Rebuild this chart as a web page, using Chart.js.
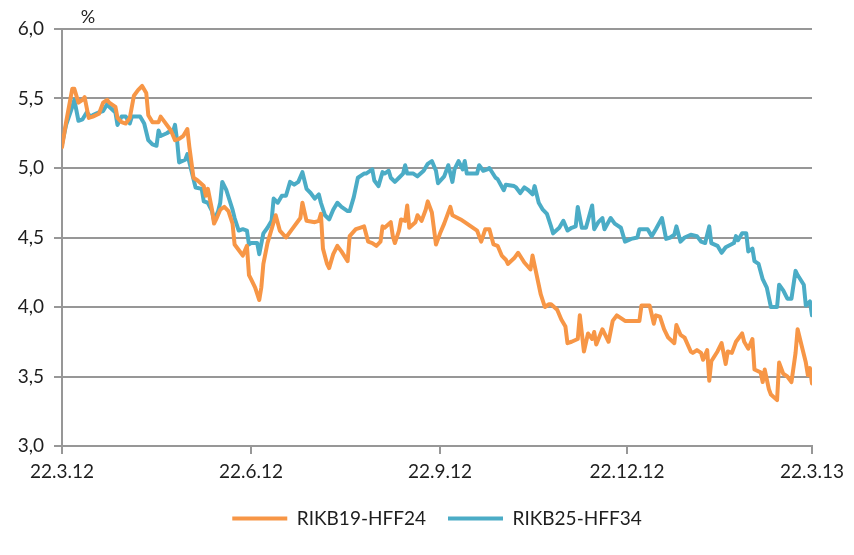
<!DOCTYPE html>
<html>
<head>
<meta charset="utf-8">
<script src="https://cdn.jsdelivr.net/npm/chart.js@4.4.1/dist/chart.umd.min.js"></script>
<style>
  html, body { margin: 0; padding: 0; background: #fff; }
  #wrap { width: 854px; height: 555px; }
</style>
</head>
<body>
<div id="wrap"><canvas id="yieldChart" width="854" height="555"></canvas></div>
<script>
// x = days after 22.3.12
const tickDays = [0, 92, 184, 275, 365];
const tickLabels = ['22.3.12', '22.6.12', '22.9.12', '22.12.12', '22.3.13'];

const rikb19Days = [0, 2, 5, 6, 8, 10, 11, 13, 15, 18, 20, 22, 23, 26, 27, 29, 31, 33, 35, 37, 39, 41, 42, 44, 47, 48, 50, 53, 55, 57, 59, 61, 62, 64, 66, 69, 70, 71, 73, 74, 75, 77, 79, 81, 83, 84, 87, 88, 90, 91, 92, 94, 96, 97, 98, 100, 103, 104, 106, 109, 112, 116, 117, 119, 123, 125, 126, 127, 129, 130, 132, 134, 136, 139, 140, 143, 145, 147, 149, 151, 153, 155, 156, 157, 160, 161, 162, 164, 165, 167, 168, 169, 172, 173, 175, 177, 178, 180, 182, 184, 186, 189, 190, 194, 196, 199, 202, 203, 204, 206, 208, 210, 212, 214, 216, 217, 220, 222, 225, 228, 229, 233, 235, 237, 238, 241, 243, 245, 246, 248, 251, 252, 254, 256, 258, 259, 260, 263, 264, 266, 268, 270, 272, 274, 281, 282, 286, 288, 289, 291, 293, 295, 298, 299, 301, 303, 306, 307, 309, 311, 312, 314, 315, 316, 319, 321, 323, 324, 326, 328, 329, 331, 332, 334, 336, 337, 340, 341, 342, 344, 345, 348, 349, 351, 353, 355, 357, 358, 360, 362, 363, 364, 365];
const rikb19Values = [5.15, 5.33, 5.57, 5.57, 5.47, 5.49, 5.51, 5.36, 5.37, 5.39, 5.47, 5.49, 5.47, 5.44, 5.36, 5.33, 5.32, 5.36, 5.52, 5.56, 5.59, 5.54, 5.38, 5.33, 5.33, 5.37, 5.33, 5.27, 5.20, 5.21, 5.23, 5.28, 5.15, 4.93, 4.91, 4.87, 4.80, 4.85, 4.70, 4.60, 4.63, 4.70, 4.72, 4.69, 4.60, 4.45, 4.39, 4.37, 4.44, 4.23, 4.20, 4.14, 4.05, 4.14, 4.31, 4.46, 4.61, 4.66, 4.55, 4.50, 4.56, 4.64, 4.75, 4.62, 4.61, 4.62, 4.67, 4.42, 4.31, 4.28, 4.38, 4.44, 4.40, 4.33, 4.51, 4.56, 4.57, 4.58, 4.47, 4.46, 4.44, 4.47, 4.58, 4.57, 4.61, 4.51, 4.46, 4.55, 4.63, 4.62, 4.73, 4.57, 4.61, 4.66, 4.62, 4.70, 4.76, 4.68, 4.45, 4.53, 4.60, 4.72, 4.66, 4.63, 4.61, 4.58, 4.55, 4.51, 4.47, 4.56, 4.56, 4.45, 4.44, 4.37, 4.34, 4.31, 4.35, 4.39, 4.32, 4.27, 4.37, 4.09, 4.00, 4.02, 4.02, 3.98, 3.91, 3.86, 3.74, 3.75, 3.77, 3.94, 3.68, 3.81, 3.77, 3.82, 3.73, 3.84, 3.81, 3.75, 3.90, 3.94, 3.92, 3.90, 3.90, 4.01, 4.01, 3.88, 3.94, 3.93, 3.84, 3.78, 3.74, 3.87, 3.80, 3.78, 3.68, 3.67, 3.69, 3.67, 3.62, 3.69, 3.47, 3.61, 3.68, 3.74, 3.59, 3.68, 3.67, 3.75, 3.77, 3.81, 3.75, 3.70, 3.77, 3.55, 3.53, 3.46, 3.55, 3.41, 3.37, 3.33, 3.60, 3.52, 3.50, 3.46, 3.67, 3.84, 3.72, 3.60, 3.51, 3.56, 3.45];

const rikb25Days = [0, 2, 5, 6, 8, 10, 12, 14, 15, 18, 20, 22, 23, 26, 27, 29, 31, 33, 34, 38, 40, 42, 44, 46, 47, 48, 51, 53, 54, 55, 56, 57, 60, 61, 63, 65, 68, 69, 71, 73, 74, 76, 77, 78, 80, 83, 84, 86, 88, 90, 91, 92, 95, 96, 98, 100, 102, 103, 105, 107, 109, 111, 113, 115, 117, 119, 121, 123, 125, 126, 128, 130, 132, 134, 136, 139, 140, 142, 144, 147, 148, 151, 152, 154, 156, 157, 159, 160, 162, 164, 166, 167, 168, 171, 173, 176, 178, 180, 182, 183, 186, 188, 190, 191, 193, 195, 196, 197, 199, 202, 203, 205, 207, 208, 211, 212, 215, 216, 220, 221, 223, 225, 227, 229, 230, 232, 234, 236, 238, 239, 242, 244, 246, 248, 250, 251, 253, 255, 258, 259, 261, 263, 264, 267, 269, 272, 274, 277, 280, 281, 285, 287, 289, 292, 294, 296, 298, 299, 301, 303, 306, 309, 311, 313, 315, 316, 319, 321, 323, 327, 328, 329, 331, 333, 334, 336, 337, 339, 341, 343, 345, 348, 349, 351, 353, 355, 357, 358, 361, 362, 364, 365];
const rikb25Values = [5.17, 5.31, 5.44, 5.49, 5.34, 5.35, 5.40, 5.37, 5.38, 5.40, 5.41, 5.46, 5.44, 5.40, 5.31, 5.37, 5.37, 5.32, 5.37, 5.37, 5.32, 5.20, 5.17, 5.16, 5.27, 5.23, 5.25, 5.27, 5.26, 5.31, 5.20, 5.04, 5.06, 5.10, 4.98, 4.86, 4.85, 4.76, 4.75, 4.69, 4.62, 4.69, 4.75, 4.90, 4.84, 4.70, 4.64, 4.55, 4.56, 4.55, 4.45, 4.46, 4.46, 4.38, 4.53, 4.57, 4.62, 4.78, 4.75, 4.80, 4.80, 4.90, 4.88, 4.90, 4.97, 4.85, 4.82, 4.78, 4.81, 4.75, 4.66, 4.63, 4.70, 4.75, 4.72, 4.69, 4.69, 4.79, 4.93, 4.96, 4.96, 4.99, 4.91, 4.87, 4.97, 4.96, 4.98, 4.93, 4.90, 4.93, 4.96, 5.02, 4.96, 4.96, 4.94, 4.98, 5.03, 5.05, 4.98, 4.89, 4.94, 5.02, 4.90, 4.99, 5.05, 4.99, 5.05, 4.96, 4.96, 4.96, 5.02, 4.98, 4.99, 5.00, 4.93, 4.92, 4.84, 4.88, 4.87, 4.86, 4.82, 4.86, 4.84, 4.81, 4.87, 4.75, 4.70, 4.67, 4.58, 4.53, 4.57, 4.62, 4.55, 4.57, 4.58, 4.72, 4.57, 4.57, 4.73, 4.56, 4.61, 4.64, 4.56, 4.64, 4.60, 4.57, 4.47, 4.49, 4.50, 4.56, 4.56, 4.51, 4.56, 4.64, 4.49, 4.50, 4.52, 4.58, 4.47, 4.50, 4.52, 4.51, 4.47, 4.46, 4.58, 4.46, 4.44, 4.39, 4.43, 4.46, 4.51, 4.48, 4.53, 4.53, 4.40, 4.42, 4.33, 4.31, 4.20, 4.14, 4.00, 4.00, 4.16, 4.12, 4.06, 4.06, 4.26, 4.23, 4.16, 4.01, 4.04, 3.94];

const toPoints = (days, vals) => days.map((d, i) => ({ x: d, y: vals[i] }));

const textColor = '#1e1e1e';
const gridColor = '#979797';
const labelFont = { family: 'Lato', size: 19 };

// "%" unit label above the value axis
const unitLabel = {
    id: 'unitLabel',
    afterDraw(chart) {
        const ctx = chart.ctx;
        ctx.save();
        ctx.fillStyle = textColor;
        ctx.font = '18px Lato';
        ctx.textAlign = 'center';
        ctx.textBaseline = 'middle';
        ctx.fillText('%', chart.chartArea.left + 26, chart.chartArea.top - 12);
        ctx.restore();
    }
};

// centre the legend under the plot area instead of the canvas
const legendShift = {
    id: 'legendShift',
    afterLayout(chart) {
        const shift = (chart.chartArea.left + chart.chartArea.right) / 2 - (chart.legend.left + chart.legend.right) / 2;
        chart.legend.left += shift;
        chart.legend.right += shift;
    }
};

const ctx = document.getElementById('yieldChart').getContext('2d');
const yieldChart = new Chart(ctx, {
    type: 'line',
    data: {
        datasets: [{
            label: 'RIKB19-HFF24',
            data: toPoints(rikb19Days, rikb19Values),
            borderColor: '#F79646',
            backgroundColor: '#F79646',
            borderWidth: 4,
            borderCapStyle: 'round',
            borderJoinStyle: 'round',
            pointRadius: 0,
            tension: 0
        }, {
            label: 'RIKB25-HFF34',
            data: toPoints(rikb25Days, rikb25Values),
            borderColor: '#4BACC6',
            backgroundColor: '#4BACC6',
            borderWidth: 4,
            borderCapStyle: 'round',
            borderJoinStyle: 'round',
            pointRadius: 0,
            tension: 0
        }]
    },
    options: {
        responsive: false,
        animation: false,
        layout: {
            padding: { left: 0, top: 29, right: 42, bottom: 17 }
        },
        plugins: {
            legend: {
                position: 'bottom',
                labels: {
                    usePointStyle: true,
                    pointStyle: 'line',
                    pointStyleWidth: 55,
                    boxHeight: 19,
                    padding: 22,
                    color: textColor,
                    font: labelFont
                }
            },
            tooltip: { enabled: false }
        },
        scales: {
            x: {
                type: 'linear',
                min: 0,
                max: 365,
                afterBuildTicks: (scale) => {
                    scale.ticks = tickDays.map(v => ({ value: v }));
                },
                afterFit: (scale) => { scale.height = 41; },
                ticks: {
                    autoSkip: false,
                    maxRotation: 0,
                    padding: 6,
                    color: textColor,
                    font: labelFont,
                    callback: (value, index) => tickLabels[index]
                },
                grid: {
                    drawOnChartArea: false,
                    drawTicks: true,
                    tickLength: 8,
                    color: gridColor,
                    lineWidth: 2
                },
                border: { display: true, color: gridColor, width: 2 }
            },
            y: {
                min: 3,
                max: 6,
                afterFit: (scale) => { scale.width = 62; },
                ticks: {
                    stepSize: 0.5,
                    padding: 10,
                    color: textColor,
                    font: labelFont,
                    callback: (value) => value.toFixed(1).replace('.', ',')
                },
                grid: {
                    color: gridColor,
                    lineWidth: 2,
                    tickLength: 8
                },
                border: { display: true, color: gridColor, width: 2 }
            }
        }
    },
    plugins: [unitLabel, legendShift]
});
</script>
</body>
</html>
